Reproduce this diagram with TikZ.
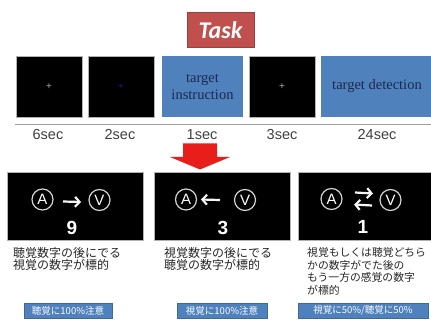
\documentclass[tikz,border=0pt]{standalone}
\usepackage{fontspec}
\setmainfont{Liberation Serif}
\setsansfont{Liberation Sans}
\newfontfamily\jp{Noto Sans CJK JP}
\newfontfamily\taskfont{Carlito}
\usetikzlibrary{arrows.meta,calc}
\definecolor{taskred}{RGB}{192,80,77}
\definecolor{stimblue}{RGB}{79,129,189}
\definecolor{navytext}{RGB}{28,40,80}
\definecolor{arrowred}{RGB}{232,30,26}
\definecolor{labelgray}{RGB}{64,64,64}
\definecolor{jptext}{RGB}{38,38,38}
\definecolor{ringgray}{RGB}{210,210,210}
\definecolor{fixblue}{RGB}{30,20,140}
\begin{document}
\begin{tikzpicture}[x=1pt,y=-1pt,
  box/.style={inner sep=0pt,outer sep=0pt,anchor=center},
  blackbox/.style={box,fill=black,draw=gray!60,line width=0.4pt},
  bluebox/.style={box,fill=stimblue,text=navytext,align=center,font=\fontsize{14.5}{17}\selectfont},
  seclabel/.style={inner sep=0pt,text=labelgray,font=\sffamily\fontsize{14.5}{16}\selectfont},
  ring/.style={circle,draw=ringgray,line width=1.2pt,inner sep=0pt,minimum size=21pt,text=white,font=\sffamily\fontsize{15}{15}\selectfont},
  digit/.style={inner sep=0pt,text=white,font=\sffamily\bfseries\fontsize{19}{19}\selectfont},
  barrow/.style={draw=white!92!gray,line width=2.2pt,-{Straight Barb[length=4.5pt,width=10pt]}},
  jpnote/.style={inner sep=0pt,anchor=north west,align=left,text=jptext},
  tag/.style={box,fill=stimblue,text=white,font=\jp\fontsize{9.5}{9.5}\selectfont,draw=stimblue!80!black,line width=0.3pt},
  fix/.style={inner sep=0pt,font=\sffamily\fontsize{10}{10}\selectfont}
]
\useasboundingbox (0,0) rectangle (431,323);
\fill[white] (0,0) rectangle (431,323);

% Task title
\node[box,fill=taskred,draw=taskred!80!black,line width=0.4pt,minimum width=67pt,minimum height=35pt,text=white,font=\taskfont\bfseries\itshape\fontsize{24}{24}\selectfont] (task) at (220.5,30) {Task};

% top row
\node[blackbox,minimum width=66pt,minimum height=61pt] (s1) at (49,86.5) {};
\node[blackbox,minimum width=66pt,minimum height=61pt] (s2) at (121,86.5) {};
\node[bluebox,minimum width=81pt,minimum height=61pt] (s3) at (202.5,86.5) {target\\instruction};
\node[blackbox,minimum width=66pt,minimum height=61pt] (s4) at (282,86.5) {};
\node[bluebox,minimum width=112pt,minimum height=61pt] (s5) at (377,86.5) {target detection};

\node[fix,text=gray!65] (p1) at (s1.center) {+};
\node[fix,text=fixblue] (p2) at (s2.center) {+};
\node[fix,text=gray!65] (p4) at (s4.center) {+};

% timeline
\coordinate (tl) at (15,124.5);
\coordinate (tr) at (431,124.5);
\draw[gray!75,line width=1.2pt] (tl) -- (tr);

\node[seclabel] (l1) at (48,135) {6sec};
\node[seclabel] (l2) at (120,135) {2sec};
\node[seclabel] (l3) at (202,135) {1sec};
\node[seclabel] (l4) at (282,135) {3sec};
\node[seclabel] (l5) at (377,135) {24sec};

% red arrow
\fill[arrowred] (183,143.5) -- (217,143.5) -- (217,157) -- (230,157) -- (200,169.5) -- (170,157) -- (183,157) -- cycle;

% bottom boxes
\node[blackbox,minimum width=136pt,minimum height=68pt] (b1) at (75,206) {};
\node[blackbox,minimum width=136pt,minimum height=68pt] (b2) at (222,206) {};
\node[blackbox,minimum width=136pt,minimum height=68pt] (b3) at (366,206) {};

% box 1
\node[ring] (a1) at (42.5,199.5) {A};
\node[ring] (v1) at (99.5,200) {V};
\node[digit] (n1) at (72,227.5) {9};
\draw[barrow] ($(a1.center)+(20.5,2)$) -- ($(v1.center)+(-18.5,2)$);
% box 2
\node[ring] (a2) at (186,199.5) {A};
\node[ring] (v2) at (245,200) {V};
\node[digit] (n2) at (223,227.5) {3};
\draw[barrow] ($(v2.center)+(-25,0)$) -- ($(a2.center)+(15,0)$);
% box 3
\node[ring] (a3) at (331.5,199) {A};
\node[ring] (v3) at (390.5,200) {V};
\node[digit] (n3) at (363,227) {1};
\draw[barrow] ($(a3.center)+(23.5,-6.5)$) -- ($(v3.center)+(-17.5,-6.5)$);
\draw[barrow] ($(v3.center)+(-18.5,5.5)$) -- ($(a3.center)+(22.5,5.5)$);

% japanese notes
\node[jpnote,font=\jp\fontsize{12}{12.5}\selectfont] (t1) at (13,247) {聴覚数字の後にでる\\視覚の数字が標的};
\node[jpnote,font=\jp\fontsize{12}{12.5}\selectfont] (t2) at (164,247) {視覚数字の後にでる\\聴覚の数字が標的};
\node[jpnote,font=\jp\fontsize{10.8}{12.6}\selectfont] (t3) at (307,247.5) {視覚もしくは聴覚どちら\\かの数字がでた後の\\もう一方の感覚の数字\\が標的};

% tags
\node[tag,minimum width=88pt,minimum height=15pt] (g1) at (68,310.5) {聴覚に100\%注意};
\node[tag,minimum width=90pt,minimum height=15pt] (g2) at (222,310.5) {視覚に100\%注意};
\node[tag,minimum width=130pt,minimum height=15pt] (g3) at (363,310.5) {視覚に50\%/聴覚に50\%};
\end{tikzpicture}
\end{document}
